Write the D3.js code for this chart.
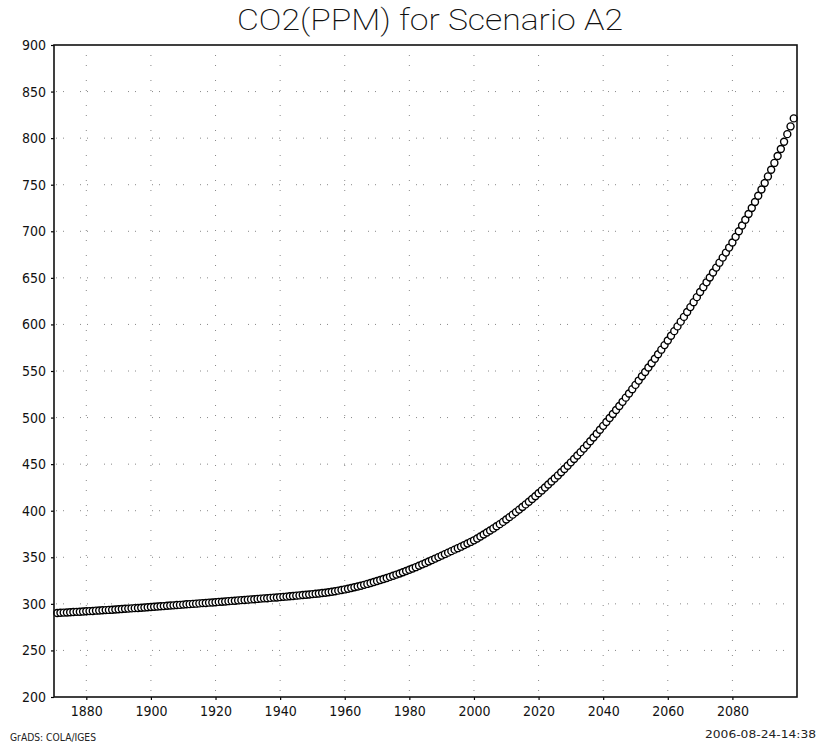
<!DOCTYPE html>
<html>
<head>
<meta charset="utf-8">
<script src="https://cdn.jsdelivr.net/npm/d3@7"></script>
<style>
  body { margin: 0; background: #fff; }
  svg { display: block; }
  .tick-label { font-family: "Liberation Sans Narrow", "DejaVu Sans Condensed", sans-serif; font-size: 14px; fill: #111; }
</style>
</head>
<body>
<div id="chart"></div>
<script>
// CO2 concentration (ppm), one value per year
const startYear = 1871;
const co2 = [
  290.2, 290.4, 290.6, 290.8, 291.0, 291.2, 291.4, 291.6, 291.8,
  292.0, 292.2, 292.4, 292.7, 292.9, 293.1, 293.3, 293.5, 293.7, 294.0,
  294.2, 294.4, 294.7, 294.9, 295.2, 295.4, 295.6, 295.9, 296.1, 296.4,
  296.6, 296.9, 297.1, 297.4, 297.6, 297.9, 298.2, 298.4, 298.7, 298.9,
  299.2, 299.5, 299.7, 300.0, 300.2, 300.5, 300.8, 301.0, 301.3, 301.5,
  301.8, 302.1, 302.3, 302.6, 302.9, 303.2, 303.4, 303.7, 304.0, 304.2,
  304.5, 304.8, 305.0, 305.3, 305.6, 305.9, 306.1, 306.4, 306.7, 306.9,
  307.2, 307.5, 307.8, 308.1, 308.5, 308.8, 309.1, 309.5, 309.8, 310.1,
  310.5, 310.8, 311.2, 311.6, 312.0, 312.5, 313.0, 313.6, 314.2, 314.8,
  315.5, 316.2, 317.0, 317.8, 318.6, 319.5, 320.4, 321.4, 322.4, 323.4,
  324.5, 325.6, 326.7, 327.8, 329.0, 330.2, 331.4, 332.6, 333.9, 335.2,
  336.6, 338.0, 339.4, 340.9, 342.4, 343.9, 345.4, 347.0, 348.6, 350.2,
  351.8, 353.4, 355.0, 356.6, 358.2, 359.8, 361.4, 363.1, 364.8, 366.5,
  368.2, 370.2, 372.3, 374.4, 376.6, 378.8, 381.0, 383.3, 385.6, 388.0,
  390.5, 393.1, 395.8, 398.5, 401.2, 404.0, 406.8, 409.7, 412.6, 415.6,
  418.7, 421.8, 424.9, 428.1, 431.3, 434.6, 437.9, 441.3, 444.8, 448.3,
  451.9, 455.5, 459.2, 462.9, 466.7, 470.6, 474.6, 478.6, 482.7, 486.9,
  491.1, 495.3, 499.5, 503.8, 508.1, 512.5, 516.9, 521.4, 525.9, 530.5,
  535.1, 539.7, 544.3, 549.0, 553.7, 558.4, 563.2, 568.0, 572.9, 577.8,
  582.8, 587.8, 592.8, 597.9, 603.0, 608.1, 613.3, 618.6, 623.9, 629.3,
  634.8, 640.0, 645.2, 650.4, 655.7, 661.0, 666.3, 671.7, 677.1, 682.5,
  688.0, 694.0, 700.1, 706.2, 712.4, 718.6, 725.0, 731.5, 738.1, 744.9,
  751.8, 758.9, 766.1, 773.4, 780.8, 788.4, 796.2, 804.3, 812.6, 821.2
];

const xTicks = [1880, 1900, 1920, 1940, 1960, 1980, 2000, 2020, 2040, 2060, 2080];
const yTicks = [200, 250, 300, 350, 400, 450, 500, 550, 600, 650, 700, 750, 800, 850, 900];

const titleText = "CO2(PPM) for Scenario A2";
const footLeft = "GrADS: COLA/IGES";
const footRight = "2006-08-24-14:38";

const data = co2.map((v, i) => ({ year: startYear + i, value: v }));

// create svg canvas
const width = 819, height = 743;
const margin = { left: 54, right: 797, top: 45, bottom: 697 };

const svg = d3.select("#chart")
  .append("svg")
  .attr("width", width)
  .attr("height", height);

const xScale = d3.scaleLinear().domain([1870, 2100]).range([margin.left, margin.right]);
const yScale = d3.scaleLinear().domain([200, 900]).range([margin.bottom, margin.top]);

// dotted grid
svg.append("g")
  .selectAll("line")
  .data(yTicks.slice(1, -1))
  .join("line")
  .attr("x1", margin.left).attr("x2", margin.right)
  .attr("y1", d => yScale(d)).attr("y2", d => yScale(d))
  .attr("stroke", "#888")
  .attr("stroke-width", 1)
  .attr("stroke-dasharray", "1,6,1,16")
  .attr("stroke-dashoffset", -2);

svg.append("g")
  .selectAll("line")
  .data(xTicks)
  .join("line")
  .attr("x1", d => xScale(d)).attr("x2", d => xScale(d))
  .attr("y1", margin.bottom).attr("y2", margin.top)
  .attr("stroke", "#888")
  .attr("stroke-width", 1)
  .attr("stroke-dasharray", "1,9,1,14")
  .attr("stroke-dashoffset", -6);

// axes
const xAxis = d3.axisBottom(xScale).tickValues(xTicks).tickFormat(d3.format("d"))
  .tickSize(3).tickPadding(6);
const yAxis = d3.axisLeft(yScale).tickValues(yTicks).tickSize(3).tickPadding(5);

const gx = svg.append("g").attr("transform", `translate(0,${margin.bottom})`).call(xAxis);
const gy = svg.append("g").attr("transform", `translate(${margin.left},0)`).call(yAxis);
[gx, gy].forEach(g => {
  g.select(".domain").remove();
  g.selectAll(".tick line").attr("stroke", "#000").attr("stroke-width", 1.2);
  g.selectAll("text").attr("class", "tick-label").attr("fill", "#111");
});

// markers: open circles, later ones painted over earlier ones
svg.append("g")
  .selectAll("circle")
  .data(data)
  .join("circle")
  .attr("cx", d => xScale(d.year))
  .attr("cy", d => yScale(d.value))
  .attr("r", 3.5)
  .attr("fill", "#fff")
  .attr("stroke", "#000")
  .attr("stroke-width", 1.4);

// frame
svg.append("rect")
  .attr("x", margin.left).attr("y", margin.top)
  .attr("width", margin.right - margin.left).attr("height", margin.bottom - margin.top)
  .attr("fill", "none")
  .attr("stroke", "#111")
  .attr("stroke-width", 1.6);

// title
svg.append("text")
  .attr("x", 430)
  .attr("y", 30)
  .attr("text-anchor", "middle")
  .attr("textLength", 386)
  .attr("lengthAdjust", "spacingAndGlyphs")
  .style("font-family", "Roboto, 'DejaVu Sans', sans-serif")
  .style("font-weight", 200)
  .style("font-size", "29px")
  .style("fill", "#111")
  .text(titleText);

// footer texts
svg.append("text")
  .attr("x", 10).attr("y", 741)
  .attr("textLength", 86)
  .attr("lengthAdjust", "spacingAndGlyphs")
  .style("font-family", "'Liberation Sans Narrow', 'DejaVu Sans Condensed', sans-serif")
  .style("font-size", "11px")
  .style("fill", "#222")
  .text(footLeft);

svg.append("text")
  .attr("x", 705).attr("y", 738)
  .attr("textLength", 111)
  .attr("lengthAdjust", "spacingAndGlyphs")
  .style("font-family", "'Liberation Sans Narrow', 'DejaVu Sans Condensed', sans-serif")
  .style("font-size", "11px")
  .style("fill", "#222")
  .text(footRight);
</script>
</body>
</html>
